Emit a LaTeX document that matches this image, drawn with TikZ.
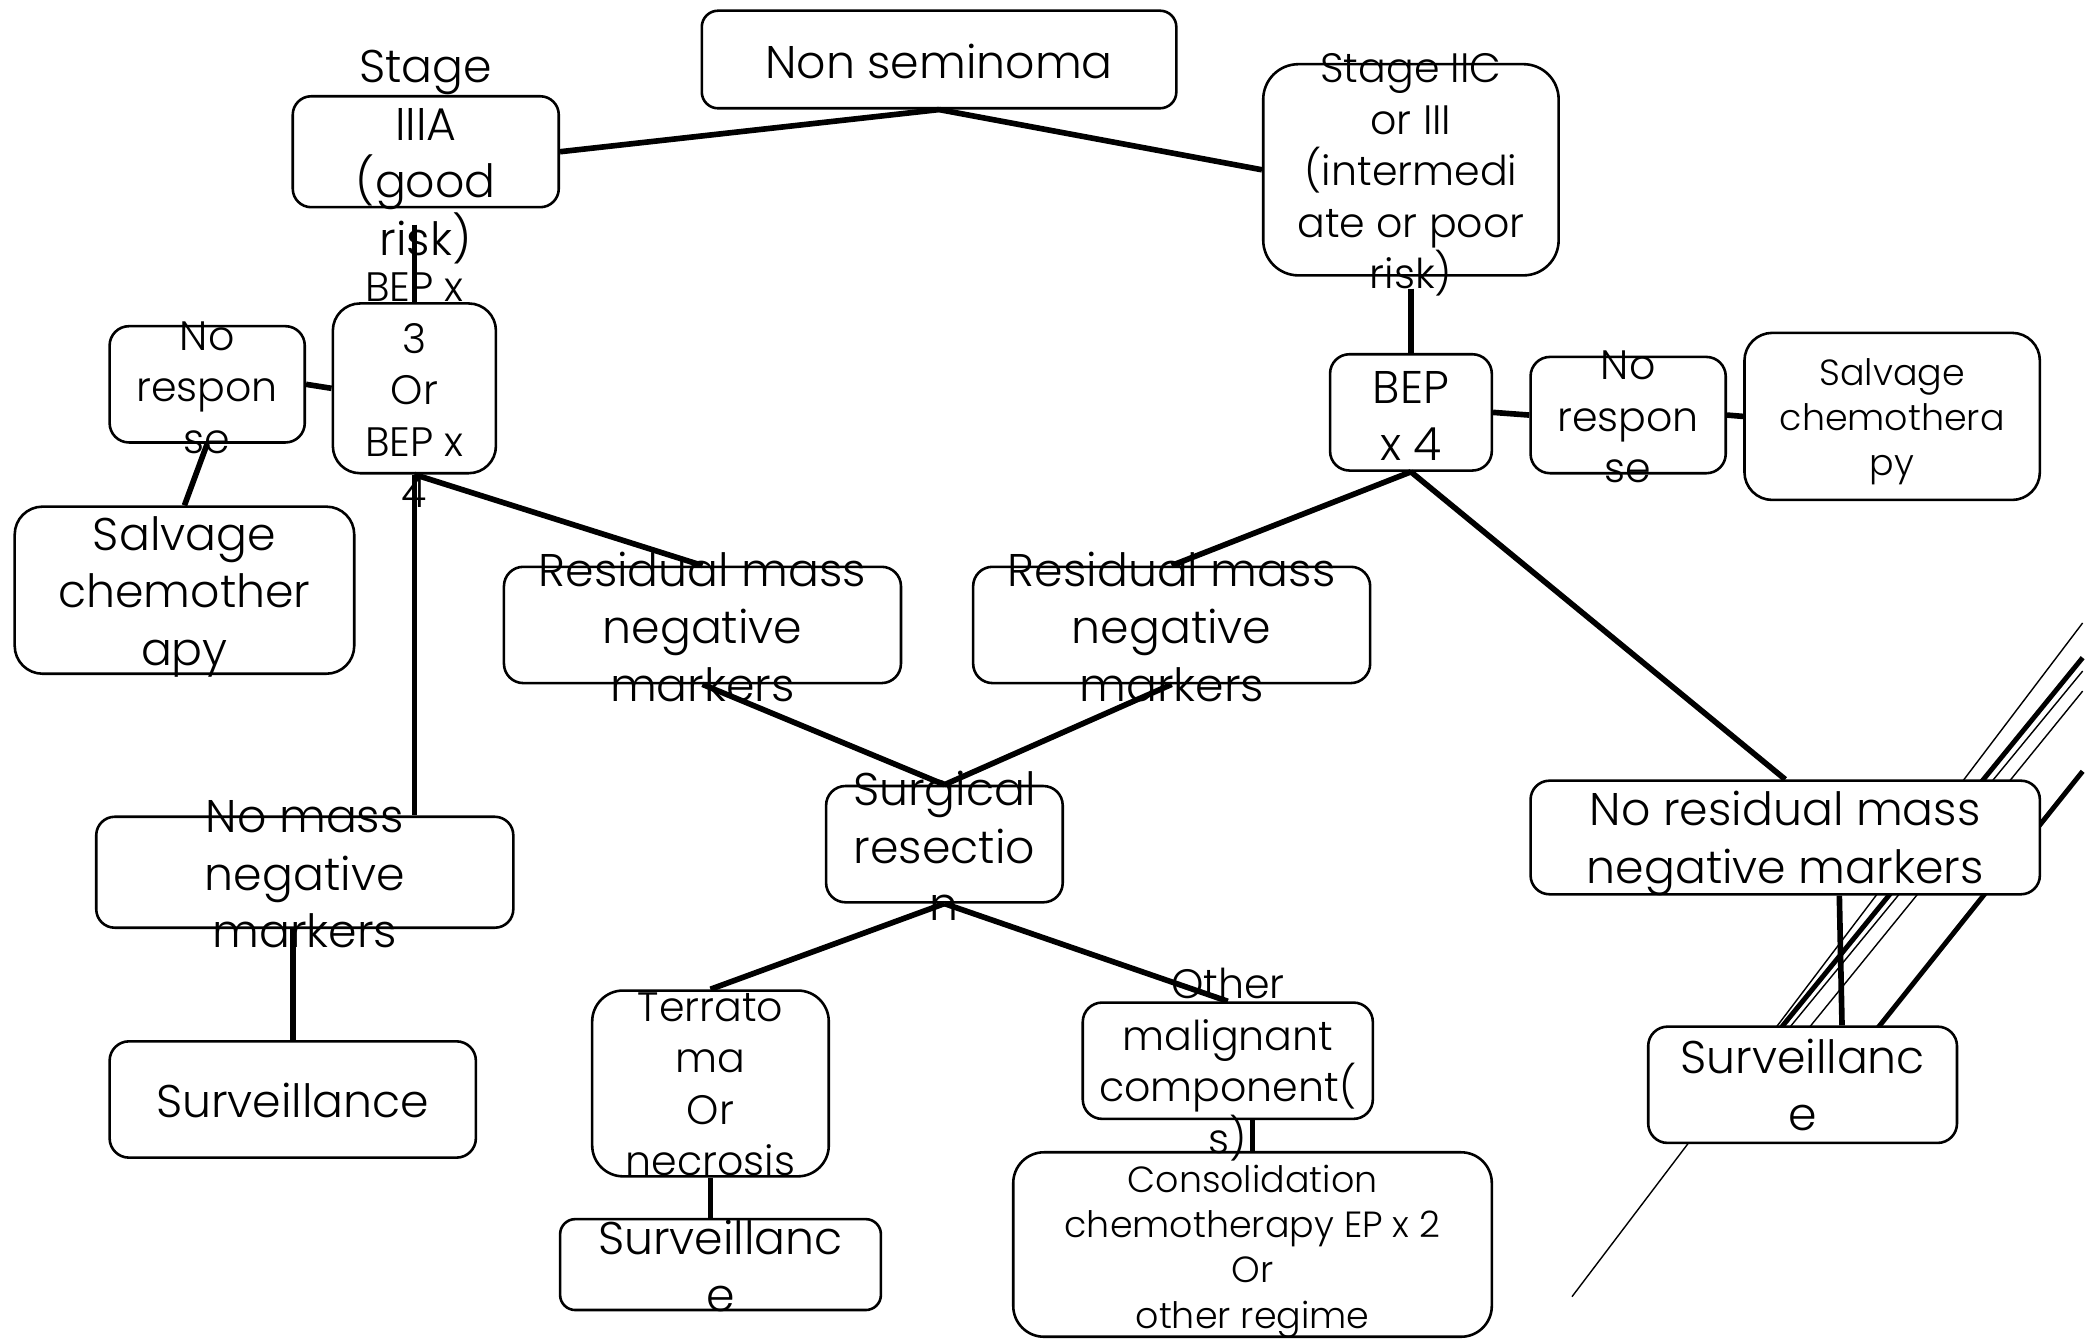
\documentclass[tikz,border=0pt]{standalone}
\usepackage{fontspec}
\setmainfont{Poppins}[UprightFont=* Light]
\tikzset{
	box/.style 2 args={draw,fill=white,line width=1.1pt,inner sep=0pt,
		minimum width=#1*0.02cm,minimum height=#2*0.02cm,
		rounded corners={min(#1,#2)*0.1667*0.02cm}},
	bigtxt/.style={align=center,inner sep=0pt,font=\fontsize{19.5}{24.5}\selectfont},
	midtxt/.style={align=center,inner sep=0pt,font=\fontsize{17.5}{21.9}\selectfont},
	smalltxt/.style={align=center,inner sep=0pt,font=\fontsize{15.5}{19.3}\selectfont},
	link/.style={line width=2.4pt},
}
\begin{document}
\begin{tikzpicture}[x=0.02cm,y=-0.02cm]
			\useasboundingbox (0,0) rectangle (1568,1002);
			
			% slanted rules in the corner
			\draw[line width=0.6pt] (1176,970) -- (1558,466);
			\draw[line width=2.1pt] (1307,800) -- (1558,492);
			\draw[line width=0.6pt] (1313,800) -- (1558,502);
			\draw[line width=0.6pt] (1328,800) -- (1558,517);
			\draw[line width=2.1pt] (1380,800) -- (1558,577);
			
			\node[box={355}{73}] (nonsem) at (702.5,44.5) {};
			\node[box={199}{83}] (stageA) at (318.5,113.5) {};
			\node[box={221}{158}] (stageC) at (1055.5,127) {};
			\node[box={122}{127}] (bepA) at (310,290.5) {};
			\node[box={146}{87}] (noresA) at (155,287.5) {};
			\node[box={254}{125}] (salvA) at (138,441.5) {};
			\node[box={121}{87}] (bepC) at (1055.5,308.5) {};
			\node[box={146}{87}] (noresC) at (1218,310.5) {};
			\node[box={221}{125}] (salvC) at (1415.5,311.5) {};
			\node[box={297}{87}] (resA) at (525.5,467.5) {};
			\node[box={297}{87}] (resC) at (876.5,467.5) {};
			\node[box={177}{87}] (surg) at (706.5,631.5) {};
			\node[box={312}{83}] (nomass) at (228,652.5) {};
			\node[box={274}{87}] (survA) at (219,822.5) {};
			\node[box={177}{139}] (terat) at (531.5,810.5) {};
			\node[box={240}{68}] (survB) at (539,946) {};
			\node[box={217}{87}] (other) at (918.5,793.5) {};
			\node[box={358}{138}] (consol) at (937,931) {};
			\node[box={381}{85}] (noresid) at (1335.5,626.5) {};
			\node[box={231}{87}] (survC) at (1348.5,811.5) {};
			
			\node[bigtxt] (nonsem-t) at (702.5,46) {Non seminoma};
			\node[bigtxt] (stageA-t) at (318.5,117.5) {Stage\\IIIA\\(good\\risk)};
			\node[midtxt] (stageC-t) at (1055.5,131) {Stage IIC\\or III\\(intermedi\\ate or poor\\risk)};
			\node[midtxt] (bepA-t) at (310,292) {BEP x\\3\\Or\\BEP x\\4};
			\node[midtxt] (noresA-t) at (155,290) {No\\respon\\se};
			\node[bigtxt] (salvA-t) at (138,446.5) {Salvage\\chemother\\apy};
			\node[bigtxt] (bepC-t) at (1055.5,311) {BEP\\x 4};
			\node[midtxt] (noresC-t) at (1218,312) {No\\respon\\se};
			\node[smalltxt] (salvC-t) at (1415.5,315.5) {Salvage\\chemothera\\py};
			\node[bigtxt] (resA-t) at (525.5,469) {Residual mass\\negative\\markers};
			\node[bigtxt] (resC-t) at (876.5,469) {Residual mass\\negative\\markers};
			\node[bigtxt] (surg-t) at (706.5,633) {Surgical\\resectio\\n};
			\node[bigtxt] (nomass-t) at (228,654) {No mass\\negative\\markers};
			\node[bigtxt] (survA-t) at (219,823) {Surveillance};
			\node[midtxt] (terat-t) at (531.5,811) {Terrato\\ma\\Or\\necrosis};
			\node[bigtxt] (survB-t) at (539,947) {Surveillanc\\e};
			\node[midtxt] (other-t) at (918.5,796.5) {Other\\malignant\\component(\\s)};
			\node[smalltxt] (consol-t) at (937,936) {Consolidation\\chemotherapy EP x 2\\Or\\other regime};
			\node[bigtxt] (noresid-t) at (1335.5,631) {No residual mass\\negative markers};
			\node[bigtxt] (survC-t) at (1348.5,811.5) {Surveillanc\\e};
			
			\draw[link] (nonsem.south)--(stageA.east);
			\draw[link] (nonsem.south)--(stageC.west);
			\draw[link] ([yshift=-0.24cm]bepA.north |- stageA.south)--(bepA.north);
			\draw[link] (bepA.west)--(noresA.east);
			\draw[link] (noresA.south)--(salvA.north);
			\draw[link] (bepA.south)--(resA.north);
			\draw[link] (bepA.south)--(bepA.south |- nomass.north);
			\draw[link] (survA.north |- nomass.south)--(survA.north);
			\draw[link] (resA.south)--(surg.north);
			\draw[link] (resC.south)--(surg.north);
			\draw[link] ([yshift=-0.18cm]stageC.south)--(bepC.north);
			\draw[link] (bepC.east)--(noresC.west);
			\draw[link] (noresC.east)--(salvC.west);
			\draw[link] (bepC.south)--(resC.north);
			\draw[link] (bepC.south)--(noresid.north);
			\draw[link] ([xshift=0.81cm]noresid.south)--([xshift=0.59cm]survC.north);
			\draw[link] (surg.south)--(terat.north);
			\draw[link] (surg.south)--(other.north);
			\draw[link] (terat.south)--(terat.south |- survB.north);
			\draw[link] (consol.north |- other.south)--(consol.north);
\end{tikzpicture}
\end{document}
